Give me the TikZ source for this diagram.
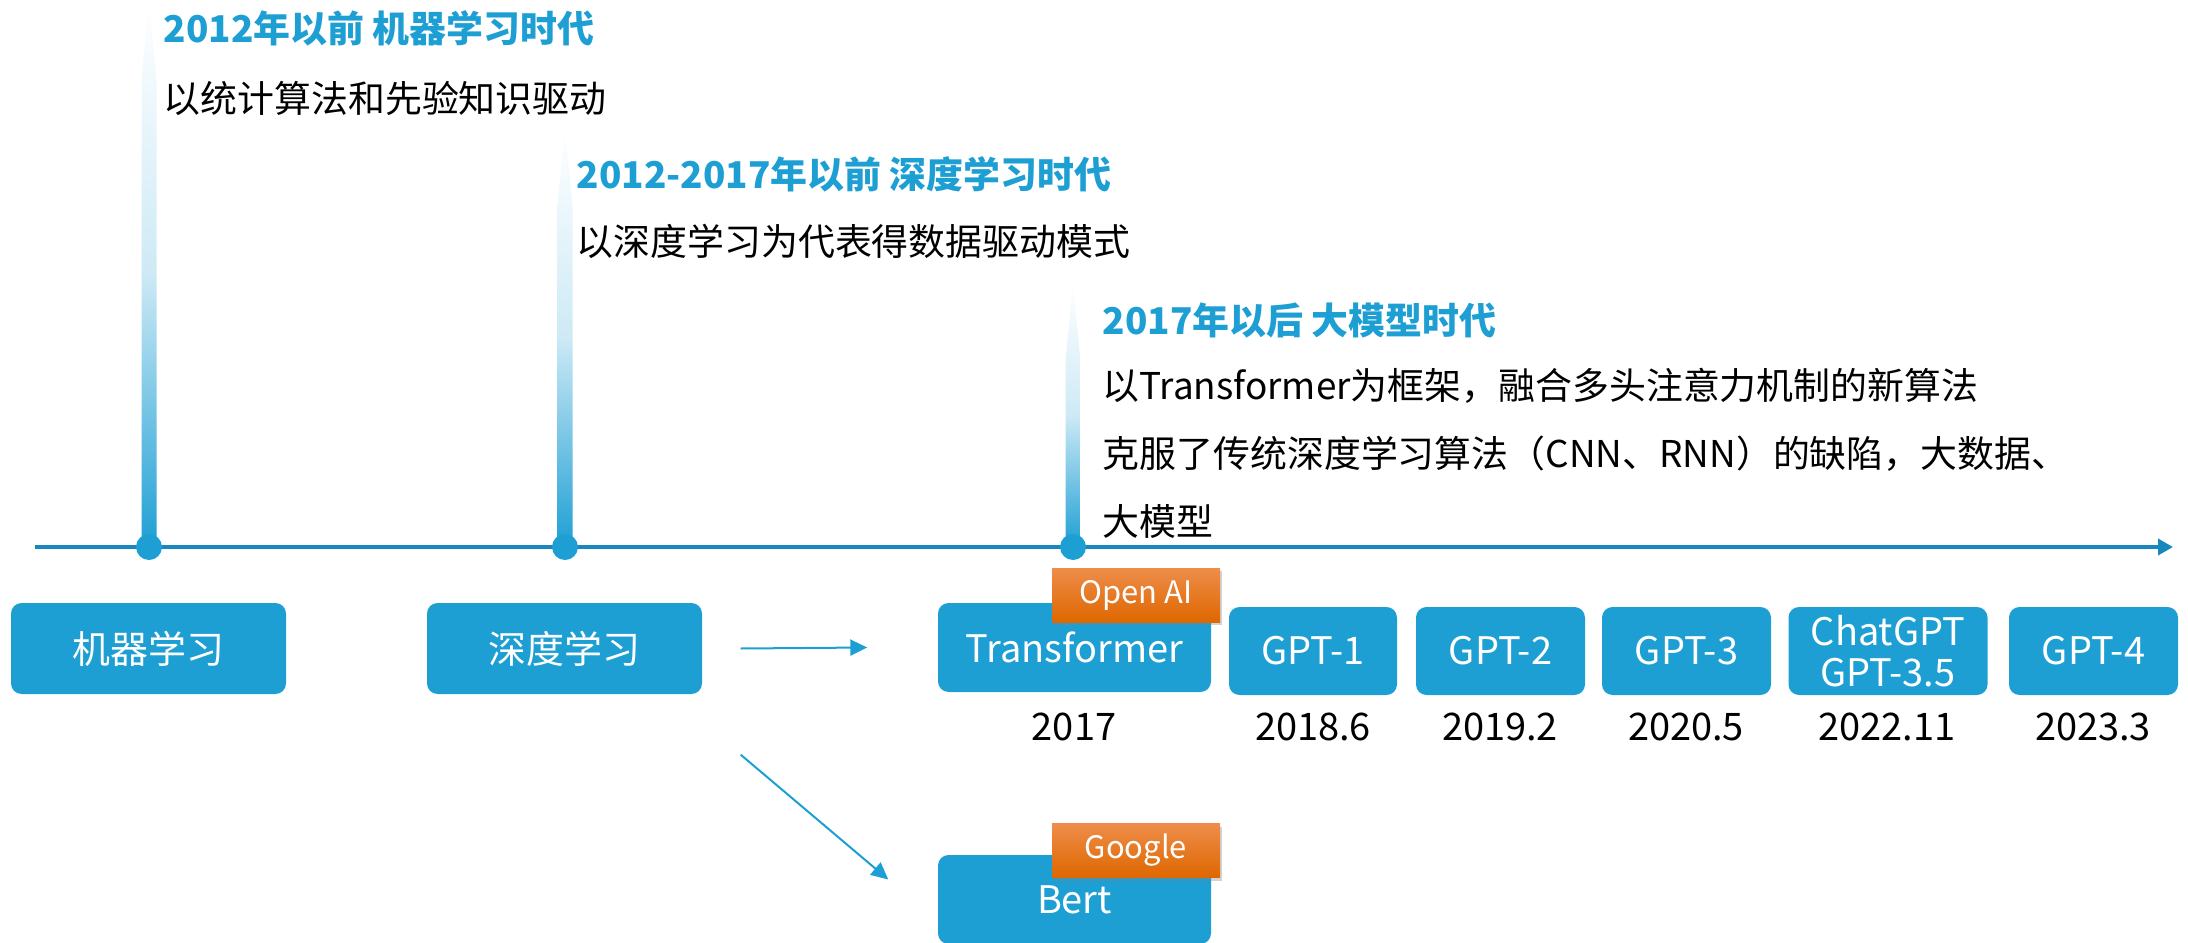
\documentclass[tikz,border=0pt]{standalone}
\usepackage{fontspec}
\setmainfont{Noto Sans CJK SC}
\usetikzlibrary{positioning,shadows,arrows.meta}

\definecolor{bleu}{HTML}{1E9FD4}
\definecolor{bleufonce}{HTML}{1887BE}
\definecolor{orangeclair}{HTML}{EE8D4A}
\definecolor{orangefonce}{HTML}{DE6700}

\tikzset{
  titre/.style={anchor=west, inner sep=0, text=bleu, font=\fontsize{10.5}{12}\selectfont\bfseries},
  ligne/.style={anchor=west, inner sep=0, font=\fontsize{10.5}{12}\selectfont},
  boite/.style={fill=bleu, rounded corners=3pt, text=white, align=center, inner sep=0,
    minimum height=9mm, font=\fontsize{10.8}{11.5}\selectfont},
  etiquette/.style={top color=orangeclair, bottom color=orangefonce, text=white, inner sep=0,
    minimum width=16.8mm, minimum height=5.4mm, font=\fontsize{8.8}{10}\selectfont,
    drop shadow={shadow xshift=0.6pt, shadow yshift=-0.9pt, opacity=0.35}},
  annee/.style={inner sep=0, font=\fontsize{10.8}{12}\selectfont},
  axe/.style={bleufonce, line width=0.4mm, -{Triangle[length=1.5mm, width=1.6mm]}},
  fleche/.style={bleu, line width=0.2mm, -{Triangle[length=1.7mm, width=1.6mm]}}
}

\begin{document}
\begin{tikzpicture}[x=0.1mm, y=-0.1mm]
    \useasboundingbox (0,0) rectangle (2188,943);

    % Tiges en dégradé au-dessus de l'axe
    \foreach \x/\h in {149/0, 565/127, 1073/282}
        \shade[top color=white, bottom color=bleu, middle color=bleu!22]
            (\x,\h) -- (\x+7.5,\h+80) -- (\x+7.5,547) -- (\x-7.5,547) -- (\x-7.5,\h+80) -- cycle;

    % Axe du temps avec les trois points
    \coordinate (debut) at (35,547);
    \coordinate (fin) at (2173,547);
    \draw[axe] (debut) -- (fin);
    \foreach \x in {149,565,1073}
        \fill[bleu] (\x,547) circle (13);

    % Les trois époques
    \node[titre] (t1) at (163,28) {2012年以前 机器学习时代};
    \node[ligne] (l1) at (163,98) {以统计算法和先验知识驱动};
    \node[titre] (t2) at (576,174) {2012-2017年以前 深度学习时代};
    \node[ligne] (l2) at (576,241) {以深度学习为代表得数据驱动模式};
    \node[titre] (t3) at (1102,320) {2017年以后 大模型时代};
    \node[ligne] (l3a) at (1102,386) {以Transformer为框架，融合多头注意力机制的新算法};
    \node[ligne] (l3b) at (1102,454) {克服了传统深度学习算法（CNN、RNN）的缺陷，大数据、};
    \node[ligne] (l3c) at (1102,521) {大模型};

    % Boîtes sous l'axe
    \node[boite, minimum width=27.5mm, minimum height=9.1mm] (ml) at (148.5,648.5) {机器学习};
    \node[boite, minimum width=27.5mm, minimum height=9.1mm] (dl) at (564.5,648.5) {深度学习};
    \node[boite, minimum width=27.3mm, minimum height=8.9mm] (tr) at (1074.5,647.5) {Transformer};
    \node[boite, minimum width=16.8mm, minimum height=8.8mm] (g1) at (1313,651) {GPT-1};
    \node[boite, minimum width=16.9mm, minimum height=8.8mm] (g2) at (1500.5,651) {GPT-2};
    \node[boite, minimum width=16.9mm, minimum height=8.8mm] (g3) at (1686.5,651) {GPT-3};
    \node[boite, minimum width=19.9mm, minimum height=8.8mm] (chat) at (1888,651) {ChatGPT\\GPT-3.5};
    \node[boite, minimum width=16.9mm, minimum height=8.8mm] (g4) at (2093.5,651) {GPT-4};
    \node[boite, minimum width=27.3mm, minimum height=8.9mm] (bert) at (1074.5,899.5) {Bert};

    % Étiquettes orange
    \node[etiquette] (openai) at (1136,595) {Open AI};
    \node[etiquette] (google) at (1136,850.5) {Google};

    % Années
    \node[annee] (a0) at (1074,727) {2017};
    \node[annee] (a1) at (1313,727) {2018.6};
    \node[annee] (a2) at (1500,727) {2019.2};
    \node[annee] (a3) at (1686,727) {2020.5};
    \node[annee] (a4) at (1887,727) {2022.11};
    \node[annee] (a5) at (2093,727) {2023.3};

    % Flèches depuis l'apprentissage profond
    \coordinate (d0) at ([shift={(38,60)}]dl.south east);
    \coordinate (d1) at ([shift={(-49,-20)}]bert.west);
    \draw[fleche] ([xshift=3.8mm]dl.east) -- ([xshift=-7mm]tr.west);
    \draw[fleche] (d0) -- (d1);
\end{tikzpicture}
\end{document}
